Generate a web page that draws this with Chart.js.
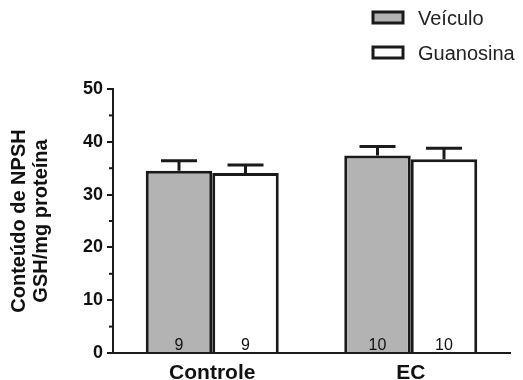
<!DOCTYPE html>
<html lang="pt-br">
<head>
<meta charset="UTF-8">
<title>NPSH</title>
<script src="https://cdn.jsdelivr.net/npm/chart.js@4"></script>
<style>
  html, body { margin: 0; padding: 0; background: #fff; }
  #wrap { width: 523px; height: 380px; position: relative; }
</style>
</head>
<body>
<div id="wrap"><canvas id="grafico"></canvas></div>
<script>
// dados
const categorias = ['Controle', 'EC'];
const veiculo = [34.5, 37.4];
const guanosina = [34.1, 36.7];
const erroVeiculo = [1.9, 1.7];
const erroGuanosina = [1.5, 2.1];
const nVeiculo = [9, 10];
const nGuanosina = [9, 10];
const ticksY = [0, 10, 20, 30, 40, 50];

const FONTE = '"Liberation Sans", Arial, sans-serif';
const PRETO = '#1a1a1a';
const erros = [erroVeiculo, erroGuanosina];
const ns = [nVeiculo, nGuanosina];

// barras de erro, n dentro das barras, ticks menores e legenda
const extras = {
  id: 'extras',
  afterDatasetsDraw(chart) {
    const ctx = chart.ctx;
    const y = chart.scales.y;
    ctx.save();
    chart.data.datasets.forEach((ds, i) => {
      const meta = chart.getDatasetMeta(i);
      meta.data.forEach((bar, j) => {
        const topo = y.getPixelForValue(ds.data[j]);
        const cap = y.getPixelForValue(ds.data[j] + erros[i][j]);
        ctx.strokeStyle = PRETO;
        ctx.lineWidth = 3;
        ctx.beginPath();
        ctx.moveTo(bar.x, topo);
        ctx.lineTo(bar.x, cap);
        ctx.moveTo(bar.x - 18, cap);
        ctx.lineTo(bar.x + 18, cap);
        ctx.stroke();
        ctx.fillStyle = '#111';
        ctx.font = '16px ' + FONTE;
        ctx.textAlign = 'center';
        ctx.textBaseline = 'alphabetic';
        ctx.fillText(String(ns[i][j]), bar.x, y.bottom - 3);
      });
    });
    // ticks menores
    ctx.strokeStyle = PRETO;
    ctx.lineWidth = 2;
    for (let v = 5; v < 50; v += 10) {
      const py = y.getPixelForValue(v);
      ctx.beginPath();
      ctx.moveTo(y.right - 4, py);
      ctx.lineTo(y.right, py);
      ctx.stroke();
    }
    // legenda
    chart.data.datasets.forEach((ds, i) => {
      const ly = 12 + i * 35;
      ctx.fillStyle = ds.backgroundColor;
      ctx.fillRect(373, ly, 30, 11);
      ctx.lineWidth = 3;
      ctx.strokeStyle = PRETO;
      ctx.strokeRect(373, ly, 30, 11);
      ctx.fillStyle = '#222';
      ctx.font = '20px ' + FONTE;
      ctx.textAlign = 'left';
      ctx.textBaseline = 'middle';
      ctx.fillText(ds.label, 418, ly + 7);
    });
    ctx.restore();
  }
};

new Chart(document.getElementById('grafico'), {
  type: 'bar',
  data: {
    labels: categorias,
    datasets: [
      { label: 'Veículo', data: veiculo, backgroundColor: '#b3b3b3', borderColor: PRETO, borderWidth: 3 },
      { label: 'Guanosina', data: guanosina, backgroundColor: '#ffffff', borderColor: PRETO, borderWidth: 3 }
    ]
  },
  options: {
    responsive: true,
    maintainAspectRatio: false,
    animation: false,
    layout: { padding: { top: 89, right: 13, left: 0, bottom: 0 } },
    datasets: { bar: { categoryPercentage: 0.67, barPercentage: 1 } },
    plugins: { legend: { display: false }, tooltip: { enabled: false } },
    scales: {
      x: {
        grid: { display: false },
        border: { color: PRETO, width: 2 },
        ticks: { color: '#111', font: { family: FONTE, size: 21, weight: 'bold' }, padding: 0 },
        afterFit(s) { s.height = 27; }
      },
      y: {
        min: 0, max: 50,
        afterBuildTicks(s) { s.ticks = ticksY.map(v => ({ value: v })); },
        grid: { drawOnChartArea: false, tickLength: 6, color: PRETO, lineWidth: 2 },
        border: { color: PRETO, width: 2 },
        ticks: { color: '#111', font: { family: FONTE, size: 18, weight: 'bold' }, padding: 4 },
        title: {
          display: true,
          text: ['Conteúdo de NPSH', 'GSH/mg proteína'],
          color: '#111',
          font: { family: FONTE, size: 20, weight: 'bold', lineHeight: 1.1 },
          padding: { top: 8, bottom: 0 }
        },
        afterFit(s) { s.width = 113; }
      }
    }
  },
  plugins: [extras]
});
</script>
</body>
</html>
